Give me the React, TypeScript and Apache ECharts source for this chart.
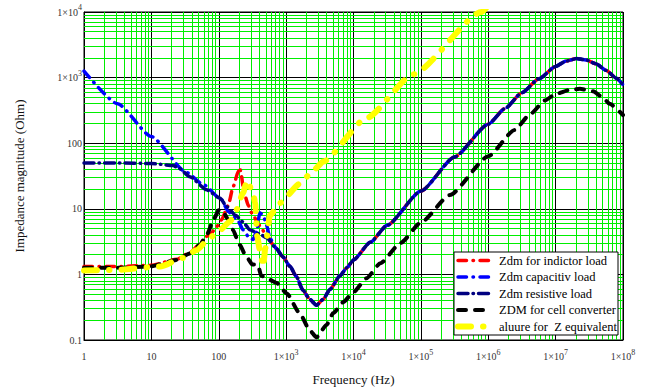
import React, { useEffect, useRef } from "react";
import * as echarts from "echarts";

const FONT = "Liberation Serif";

// Axis ranges (log-log)
const xRange = [1, 1e8];
const yRange = [0.1, 1e4];

// Minor grid positions (2..9 in every decade)
const minorMult = [2, 3, 4, 5, 6, 7, 8, 9];
const xDecades = [1, 10, 100, 1e3, 1e4, 1e5, 1e6, 1e7];
const yDecades = [0.1, 1, 10, 100, 1e3];

// Shared high-frequency part of the three Zdm curves [Hz, Ohm]
const zdmHighFreq: [number, number][] = [
  [708, 2.51], [891, 1.86], [1148, 1.32], [1413, 0.933], [1778, 0.575],
  [2239, 0.417], [2818, 0.339], [3548, 0.417], [4467, 0.589], [6310, 0.955],
  [7943, 1.26], [1e4, 1.66], [17783, 3.09], [31623, 5.62], [1e5, 18.6],
  [316228, 61.7], [1e6, 195], [1.778e6, 339], [3.162e6, 589], [5.623e6, 955],
  [1e7, 1479], [1.413e7, 1778], [2.042e7, 1950], [2.818e7, 1862], [3.981e7, 1622],
  [5.623e7, 1288], [7.943e7, 977], [1e8, 776],
];

const inductorLow: [number, number][] = [
  [1, 1.32], [3.16, 1.32], [10, 1.38], [23.7, 1.7], [37.2, 2.14], [52.5, 2.88],
  [66.1, 3.8], [77.6, 4.27], [93.3, 5.37], [109.6, 6.76], [138, 11.2], [164, 21.9],
  [195, 37.2], [204, 42.7], [214, 35.5], [229, 22.4], [245, 15.8], [275, 11.2],
  [316, 8.32], [398, 5.62], [513, 3.98], [646, 2.82],
];

const capacitiveLow: [number, number][] = [
  [1, 1260], [3.16, 398], [10, 126], [33, 36], [59, 23.4], [110, 13.8],
  [138, 9.1], [195, 6.46], [229, 4.79], [288, 3.55], [324, 3.4], [363, 4.5],
  [407, 8.7], [457, 7.9], [513, 5.6], [575, 3.55],
];

const resistiveLow: [number, number][] = [
  [1, 50.1], [3.16, 50.1], [10, 49], [21, 45.7], [26, 41], [37.2, 30.9],
  [66, 19.5], [105, 14.5], [132, 10.7], [178, 7.94], [229, 6.31], [288, 4.79],
  [398, 4.17], [513, 3.63],
];

const cellConverter: [number, number][] = [
  [1, 1.26], [3.16, 1.26], [9.55, 1.32], [23.7, 1.66], [37.2, 2.09], [52.5, 2.82],
  [66.1, 3.98], [85.1, 7.08], [100, 9.55], [117.5, 8.91], [135, 7.08], [162, 4.79],
  [204, 2.82], [257, 1.86], [316, 1.41], [380, 1.41], [427, 0.955], [562, 0.832],
  [724, 0.741], [1023, 0.513], [1585, 0.257], [2239, 0.141], [2818, 0.11],
  [3981, 0.17], [5012, 0.257], [7079, 0.38], [1e4, 0.537], [15488, 0.871],
  [25119, 1.48], [50119, 3.02], [1e5, 6.17], [269153, 16.2], [1e6, 63.1],
  [2.455e6, 158.5], [4.17e6, 275], [6.92e6, 447], [1e7, 562], [1.585e7, 646],
  [2.29e7, 676], [3.6e7, 617], [5.01e7, 501], [6.31e7, 398], [1e8, 269],
];

const zEquivalent: [number, number][] = [
  [1, 1.15], [3.16, 1.175], [13.5, 1.32], [29.5, 1.78], [46.8, 2.34], [74, 3.63],
  [105, 4.79], [148, 6.46], [182, 9.55], [229, 17.4], [263, 26.9], [324, 17.4],
  [347, 12.3], [372, 3.8], [407, 2.34], [457, 1.32], [490, 2.5], [575, 7.94],
  [813, 12.3], [1585, 24], [2512, 38], [3548, 52.5], [15488, 240], [76913, 1122],
  [794328, 10000], [1e6, 12589],
];

const seriesNames = [
  "Zdm for indictor load",
  "Zdm capacitiv load",
  "Zdm resistive load",
  "ZDM for cell converter",
  "aluure for  Z equivalent",
];

const fmtTick = (v: number) => {
  if (v >= 1000) {
    const e = Math.round(Math.log10(v));
    return `{b|1\u00d710}{s|${e}}`;
  }
  return `{b|${v}}`;
};

const labelRich = {
  b: { fontSize: 10, lineHeight: 17, color: "#333", fontFamily: FONT },
  s: { fontSize: 8, padding: [0, 0, 9, 0], color: "#333", fontFamily: FONT },
};

export default function App() {
  const ref = useRef<HTMLDivElement>(null);
  useEffect(() => {
    if (!ref.current) return;
    const chart = echarts.init(ref.current, undefined, { renderer: "svg" });

    const xMinor: { xAxis: number }[] = [];
    xDecades.forEach((d) => minorMult.forEach((m) => xMinor.push({ xAxis: d * m })));
    const yMinor: { yAxis: number }[] = [];
    yDecades.forEach((d) => minorMult.forEach((m) => yMinor.push({ yAxis: +(d * m).toPrecision(3) })));

    const mk = (name: string, data: [number, number][], color: string, width: number, dash: number[]) => ({
      name,
      type: "line",
      data,
      symbol: "none",
      showSymbol: false,
      smooth: 0.2,
      smoothMonotone: "x",
      z: 3,
      clip: true,
      lineStyle: { color, width, type: dash, cap: "round", join: "round" },
      itemStyle: { color },
    });

    const option: any = {
      animation: false,
      textStyle: { fontFamily: FONT },
      grid: {
        left: 84, right: 28, top: 12, bottom: 50,
        show: true, borderColor: "#000", borderWidth: 1,
        containLabel: false, outerBoundsMode: "none",
      },
      xAxis: {
        type: "log", logBase: 10, min: xRange[0], max: xRange[1],
        name: "Frequency (Hz)", nameLocation: "middle", nameGap: 33,
        nameTextStyle: { fontSize: 13, color: "#111", fontFamily: FONT },
        axisLine: { show: true, lineStyle: { color: "#000", width: 1 } },
        axisTick: { show: false },
        axisLabel: { formatter: fmtTick, rich: labelRich, fontFamily: FONT, margin: 8, showMinLabel: true, showMaxLabel: true, hideOverlap: false },
        splitLine: { show: true, lineStyle: { color: "#000", width: 1 } },
        minorTick: { show: false }, minorSplitLine: { show: false },
      },
      yAxis: {
        type: "log", logBase: 10, min: yRange[0], max: yRange[1],
        name: "Impedance magnitude (Ohm)", nameLocation: "middle", nameGap: 58,
        nameTextStyle: { fontSize: 13, color: "#111", fontFamily: FONT },
        axisLine: { show: true, lineStyle: { color: "#000", width: 1 } },
        axisTick: { show: false },
        axisLabel: { formatter: fmtTick, rich: labelRich, fontFamily: FONT, margin: 2, showMinLabel: true, showMaxLabel: true, hideOverlap: false },
        splitLine: { show: true, lineStyle: { color: "#000", width: 1 } },
      },
      legend: {
        show: true, orient: "vertical", left: 454, top: 252, z: 10,
        backgroundColor: "#fff", borderColor: "#000", borderWidth: 1,
        padding: [2, 1, 2, 1], itemGap: 3.5, itemWidth: 33, itemHeight: 10,
        itemStyle: { opacity: 0, borderWidth: 0 },
        textStyle: { fontSize: 12.5, color: "#000", fontFamily: FONT, padding: [0, 0, 0, 3] },
        data: [
          { name: seriesNames[0], lineStyle: { width: 3.5 } },
          { name: seriesNames[1], lineStyle: { width: 3.5 } },
          { name: seriesNames[2], lineStyle: { width: 3.5 } },
          { name: seriesNames[3], lineStyle: { width: 4 } },
          { name: seriesNames[4], lineStyle: { width: 6 } },
        ],
      },
      series: [
        {
          name: "minor-grid", type: "line", data: [], silent: true, z: 1,
          markLine: {
            silent: true, z: 1, symbol: ["none", "none"], animation: false,
            label: { show: false },
            lineStyle: { type: "solid", color: "#00ee00", width: 1 },
            emphasis: { disabled: true },
            data: [...xMinor, ...yMinor],
          },
        },
        mk(seriesNames[0], [...inductorLow, ...zdmHighFreq], "#ff0000", 3.5, [8.5, 6.5, 0.5, 6.5]),
        mk(seriesNames[1], [...capacitiveLow, ...zdmHighFreq], "#0000ff", 3.5, [8.5, 6.5, 0.5, 6.5]),
        mk(seriesNames[2], [...resistiveLow, ...zdmHighFreq], "#000080", 3.5, [10, 5, 0.5, 5]),
        mk(seriesNames[3], cellConverter, "#000000", 4, [8, 9]),
        mk(seriesNames[4], zEquivalent, "#ffff00", 6, [13, 12, 0.5, 12]),
      ],
    };
    chart.setOption(option);
    return () => chart.dispose();
  }, []);

  return (
    <div
      ref={ref}
      style={{ position: "fixed", left: 0, top: 0, width: 651, height: 390, background: "#fff" }}
    />
  );
}
